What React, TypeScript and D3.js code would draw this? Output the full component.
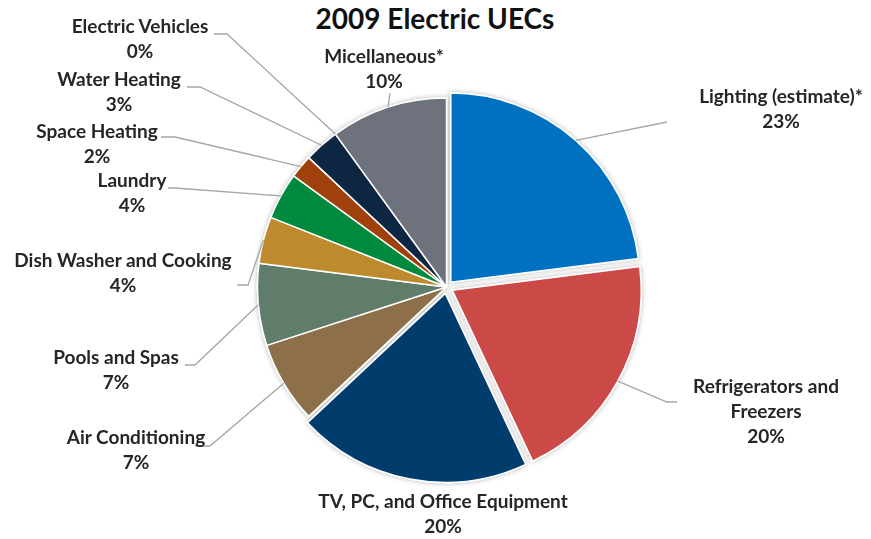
import React from "react";
import * as d3 from "d3";

const title = "2009 Electric UECs";
const categories = [
  "Lighting (estimate)*",
  "Refrigerators and Freezers",
  "TV, PC, and Office Equipment",
  "Air Conditioning",
  "Pools and Spas",
  "Dish Washer and Cooking",
  "Laundry",
  "Space Heating",
  "Water Heating",
  "Electric Vehicles",
  "Micellaneous*",
];
const values = [23, 20, 20, 7, 7, 4, 4, 2, 3, 0, 10];
const exploded = [true, true, true, false, false, false, false, false, false, false, false];
const colors = [
  "#0070C0",
  "#CB4A46",
  "#003D6C",
  "#8D6F48",
  "#617D6C",
  "#BD8B2E",
  "#008A3E",
  "#A03F0C",
  "#0E2642",
  "#5A5A5A",
  "#6E727C",
];
// label text lines + layout (center x, first baseline y, leader bend points)
const labelLines = [
  ["Lighting (estimate)*"],
  ["Refrigerators and", "Freezers"],
  ["TV, PC, and Office Equipment"],
  ["Air Conditioning"],
  ["Pools and Spas"],
  ["Dish Washer and Cooking"],
  ["Laundry"],
  ["Space Heating"],
  ["Water Heating"],
  ["Electric Vehicles"],
  ["Micellaneous*"],
];
const labelLayout: { x: number; y: number; pts: number[][] }[] = [
  { x: 781, y: 103, pts: [[667, 122]] },
  { x: 766, y: 393, pts: [[667, 402], [677, 402]] },
  { x: 443, y: 508, pts: [] },
  { x: 136, y: 444, pts: [[210, 446], [195, 446]] },
  { x: 116, y: 364, pts: [[195, 365], [185, 365]] },
  { x: 123, y: 267, pts: [[248, 285], [237, 285]] },
  { x: 132, y: 187, pts: [[175, 188], [168, 188]] },
  { x: 97, y: 138, pts: [[175, 137], [161, 137]] },
  { x: 119, y: 86, pts: [[200, 87], [187, 87]] },
  { x: 140, y: 33, pts: [[227, 34], [214, 34]] },
  { x: 384, y: 63, pts: [[390, 93]] },
];

const W = 871;
const H = 539;
const cx = 446.5;
const cy = 287;
const R = 189;
const EXPLODE = 6.5;
const LINE_H = 25;

export default function App() {
  const pie = d3.pie<number>().value((d) => d).sort(null);
  const arcs = pie(values);
  const arcGen = d3.arc<d3.PieArcDatum<number>>().innerRadius(0).outerRadius(R);

  return (
    <svg
      width={W}
      height={H}
      style={{ position: "absolute", left: 0, top: 0, background: "#fff" }}
      fontFamily="Lato, 'Open Sans', sans-serif"
    >
      <defs>
        <filter id="sh" x="-20%" y="-20%" width="140%" height="140%">
          <feDropShadow dx="0" dy="0" stdDeviation="2.5" floodColor="#000" floodOpacity="0.3" />
        </filter>
      </defs>
      <rect width={W} height={H} fill="#fff" />
      <text x={435} y={29} textAnchor="middle" fontSize={28} fontWeight="bold" fill="#111">
        {title}
      </text>
      <g filter="url(#sh)">
        {arcs.map((a, i) => {
          const mid = (a.startAngle + a.endAngle) / 2;
          const e = exploded[i] ? EXPLODE : 0;
          const dx = Math.sin(mid) * e;
          const dy = -Math.cos(mid) * e;
          if (a.endAngle - a.startAngle <= 0) return null;
          return (
            <path
              key={categories[i]}
              d={arcGen(a) || ""}
              transform={`translate(${cx + dx},${cy + dy})`}
              fill={colors[i]}
              stroke="#fff"
              strokeWidth={1.5}
              strokeLinejoin="round"
            />
          );
        })}
      </g>
      <g>
        {arcs.map((a, i) => {
          const lay = labelLayout[i];
          if (!lay.pts.length) return null;
          const mid = (a.startAngle + a.endAngle) / 2;
          const e = exploded[i] ? EXPLODE : 0;
          const sx = cx + Math.sin(mid) * (R + e);
          const sy = cy - Math.cos(mid) * (R + e);
          const line = d3.line();
          const pts: [number, number][] = [[sx, sy], ...lay.pts.map((p) => [p[0], p[1]] as [number, number])];
          return (
            <path key={"l" + i} d={line(pts) || ""} fill="none" stroke="#A6A6A6" strokeWidth={1.3} />
          );
        })}
      </g>
      <g fontSize={19} fontWeight="bold" fill="#262626" textAnchor="middle">
        {arcs.map((a, i) => {
          const lay = labelLayout[i];
          const lines = [...labelLines[i], `${d3.format(".0f")(values[i])}%`];
          return (
            <text key={"t" + i} x={lay.x} y={lay.y}>
              {lines.map((ln, j) => (
                <tspan key={j} x={lay.x} dy={j === 0 ? 0 : LINE_H}>
                  {ln}
                </tspan>
              ))}
            </text>
          );
        })}
      </g>
    </svg>
  );
}
